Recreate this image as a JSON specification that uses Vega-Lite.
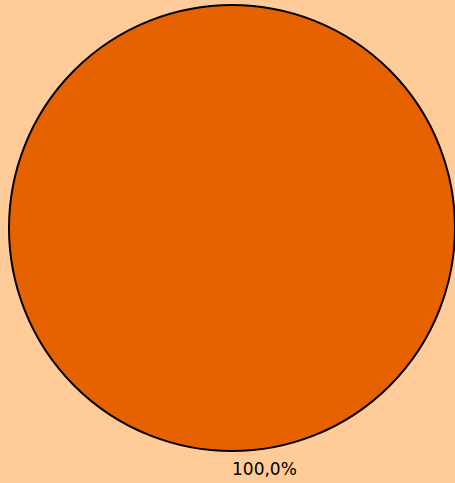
{
  "$schema": "https://vega.github.io/schema/vega-lite/v6.json",
  "width": 446,
  "height": 446,
  "padding": {"left": 9, "top": 5, "right": 0, "bottom": 32},
  "autosize": {"type": "none"},
  "background": "#FFCC99",
  "config": {"view": {"stroke": null}},
  "data": {"values": [{"category": "A", "value": 100, "label": "100,0%"}]},
  "encoding": {
    "theta": {"field": "value", "type": "quantitative", "stack": true}
  },
  "layer": [
    {
      "mark": {"type": "arc", "stroke": "#000000", "strokeWidth": 2, "fill": "#E66100"},
      "encoding": {}
    },
    {
      "mark": {"type": "text", "radius": 247, "align": "left", "baseline": "alphabetic", "font": "DejaVu Sans", "fontSize": 17, "color": "#000000"},
      "encoding": {"text": {"field": "label", "type": "nominal"}}
    }
  ]
}
